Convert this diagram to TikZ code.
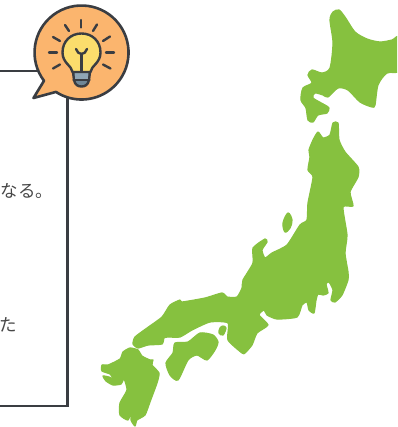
\documentclass[tikz,border=0pt]{standalone}
\usepackage{fontspec}
\newfontfamily\jpfont{Noto Sans CJK JP}
\definecolor{landgreen}{HTML}{86C13F}
\definecolor{inkdark}{HTML}{3A3D42}
\definecolor{bubbleorange}{HTML}{FBB56E}
\definecolor{bulbyellow}{HTML}{FBDD6C}
\definecolor{bulbbase}{HTML}{8FA6B5}
\definecolor{bulbtip}{HTML}{6F8797}
\tikzset{
  land/.style={fill=landgreen,draw=landgreen,line width=1.2pt,line join=round},
  frameline/.style={draw=inkdark,line width=2.7pt},
  ray/.style={draw=inkdark,line width=2.4pt,line cap=round},
  bulbline/.style={draw=inkdark,line width=2.4pt,line join=round,line cap=round},
  jptext/.style={font=\jpfont\fontsize{17.5}{19}\selectfont,text=black!72,inner sep=0pt,anchor=east}
}
\begin{document}
\begin{tikzpicture}[x=1pt,y=-1pt]
\useasboundingbox (0,0) rectangle (397,427);
\begin{scope}
\clip (0,0) rectangle (397,427);
% box
\coordinate (tl) at (-5,71);
\coordinate (tr) at (67.7,71);
\coordinate (br) at (67.7,406);
\coordinate (bl) at (-5,406);
\draw[frameline] (tl) -- (tr) -- (br) -- (bl);
\node[jptext] (t1) at (53.5,191) {なる。};
\node[jptext] (t2) at (17,325) {た};
% speech bubble
\draw[line width=2.6pt,draw=inkdark,fill=bubbleorange,line join=round]
  (44,80.8) arc[start angle=143,end angle=483,radius=47] -- (33.5,98) -- cycle;
% rays
\foreach \a/\b/\c/\d in {81/20/81/27.5,65/25/69/31,97/24.5/93/31,53/37/60/41,110/36.5/103/41,49/52.5/57/52.5,106/52.5/114/52.5,53/68.5/60/64.5,110.5/68.5/103/64.5}
  \draw[ray] (\a,\b) -- (\c,\d);
% bulb
\draw[bulbline,fill=bulbtip] (73,72) -- (90,72) -- (89,80) .. controls (88,85) and (85,86.5) .. (81.5,86.5) .. controls (78,86.5) and (75,85) .. (74,80) -- cycle;
\fill[bulbbase] (75,73) rectangle (88,79);
\draw[bulbline] (73.5,80) -- (89.5,80);
\draw[bulbline,fill=bulbyellow] (72.5,72) .. controls (72,66) and (62.5,63) .. (62.5,52.5)
  .. controls (62.5,41) and (71,33.5) .. (81.5,33.5)
  .. controls (92,33.5) and (100.5,41) .. (100.5,52.5)
  .. controls (100.5,63) and (91,66) .. (90.5,72) -- cycle;
\draw[bulbline] (81.5,71) -- (81.5,54);
\draw[bulbline] (76,49) .. controls (77,52) and (79,54) .. (81.5,54) .. controls (84,54) and (86,52) .. (87,49);
% Hokkaido
\path[land] plot[smooth cycle,tension=0.45] coordinates {
(330,20)(333,12)(339,10)(345,17)(355,32)(367,39)(380,42)(392,40)(400,37)(402,70)
(387,73)(378,85)(375,105)(372,107)(360,102)(348,90)(338,88)(328,97)(323,95)(315,93)(313,98)
(325,105)(329,108)(327,113)(318,115)(313,122)(308,120)(306,108)(301,100)(303,88)(312,83)(308,75)(312,70)(322,73)(330,68)(333,43)};
% Honshu
\path[land] plot[smooth cycle,tension=0.35] coordinates {
(333,123)(338,123)(339,140)(345,152)(358,167)(358,177)(350,192)(353,206)(343,207)(347,235)(345,253)(348,272)
(348,280)(342,295)(335,302)(331,300)(333,290)(329,282)(326,284)(328,293)(323,295)(318,294)(316,300)(314,313)(309,310)(307,302)(302,305)(297,317)(277,319)
(267,315)(264,310)(259,315)(268,325)(257,333)(252,345)(245,353)(242,353)(228,340)(228,323)(210,322)(192,330)(180,337)(168,337)(164,338)(162,344)(148,345)(138,348)
(133,344)(135,337)(147,328)(162,317)(170,305)(180,300)(182,302)(205,298)(222,293)(227,297)(237,297)(242,288)(243,280)
(253,263)(253,248)(265,239)(267,242)(262,250)(265,258)(272,253)(287,245)(300,225)(307,220)(308,203)(313,177)(308,170)(310,157)(309,150)(313,140)(318,132)(323,138)(330,135)};
% Sado
\path[land] plot[smooth cycle,tension=0.6] coordinates {(288,213)(292,220)(290,228)(285,232)(283,223)};
% Shikoku
\path[land] plot[smooth cycle,tension=0.4] coordinates {
(200,333)(213,335)(218,342)(215,350)(207,360)(197,355)(188,360)(178,380)(170,375)(166,363)(173,353)(175,343)(188,342)};
% Awaji
\path[land] plot[smooth cycle,tension=0.6] coordinates {(223,326)(226,328)(223,335)(219,333)(220,328)};
% Kyushu
\path[land] plot[smooth cycle,tension=0.35] coordinates {
(130,348)(138,350)(142,356)(150,360)(153,360)(152,365)(159,373)(157,383)(150,402)(145,415)(137,420)(135,426)(131,420)(132,410)(128,420)(120,415)(120,403)(127,390)(124,379)(121,384)(113,385)(106,381)(103,376)(109,377)(113,379)(110,374)(102,371)(102,365)(108,365)(120,359)(123,352)};
\end{scope}
\end{tikzpicture}
\end{document}
